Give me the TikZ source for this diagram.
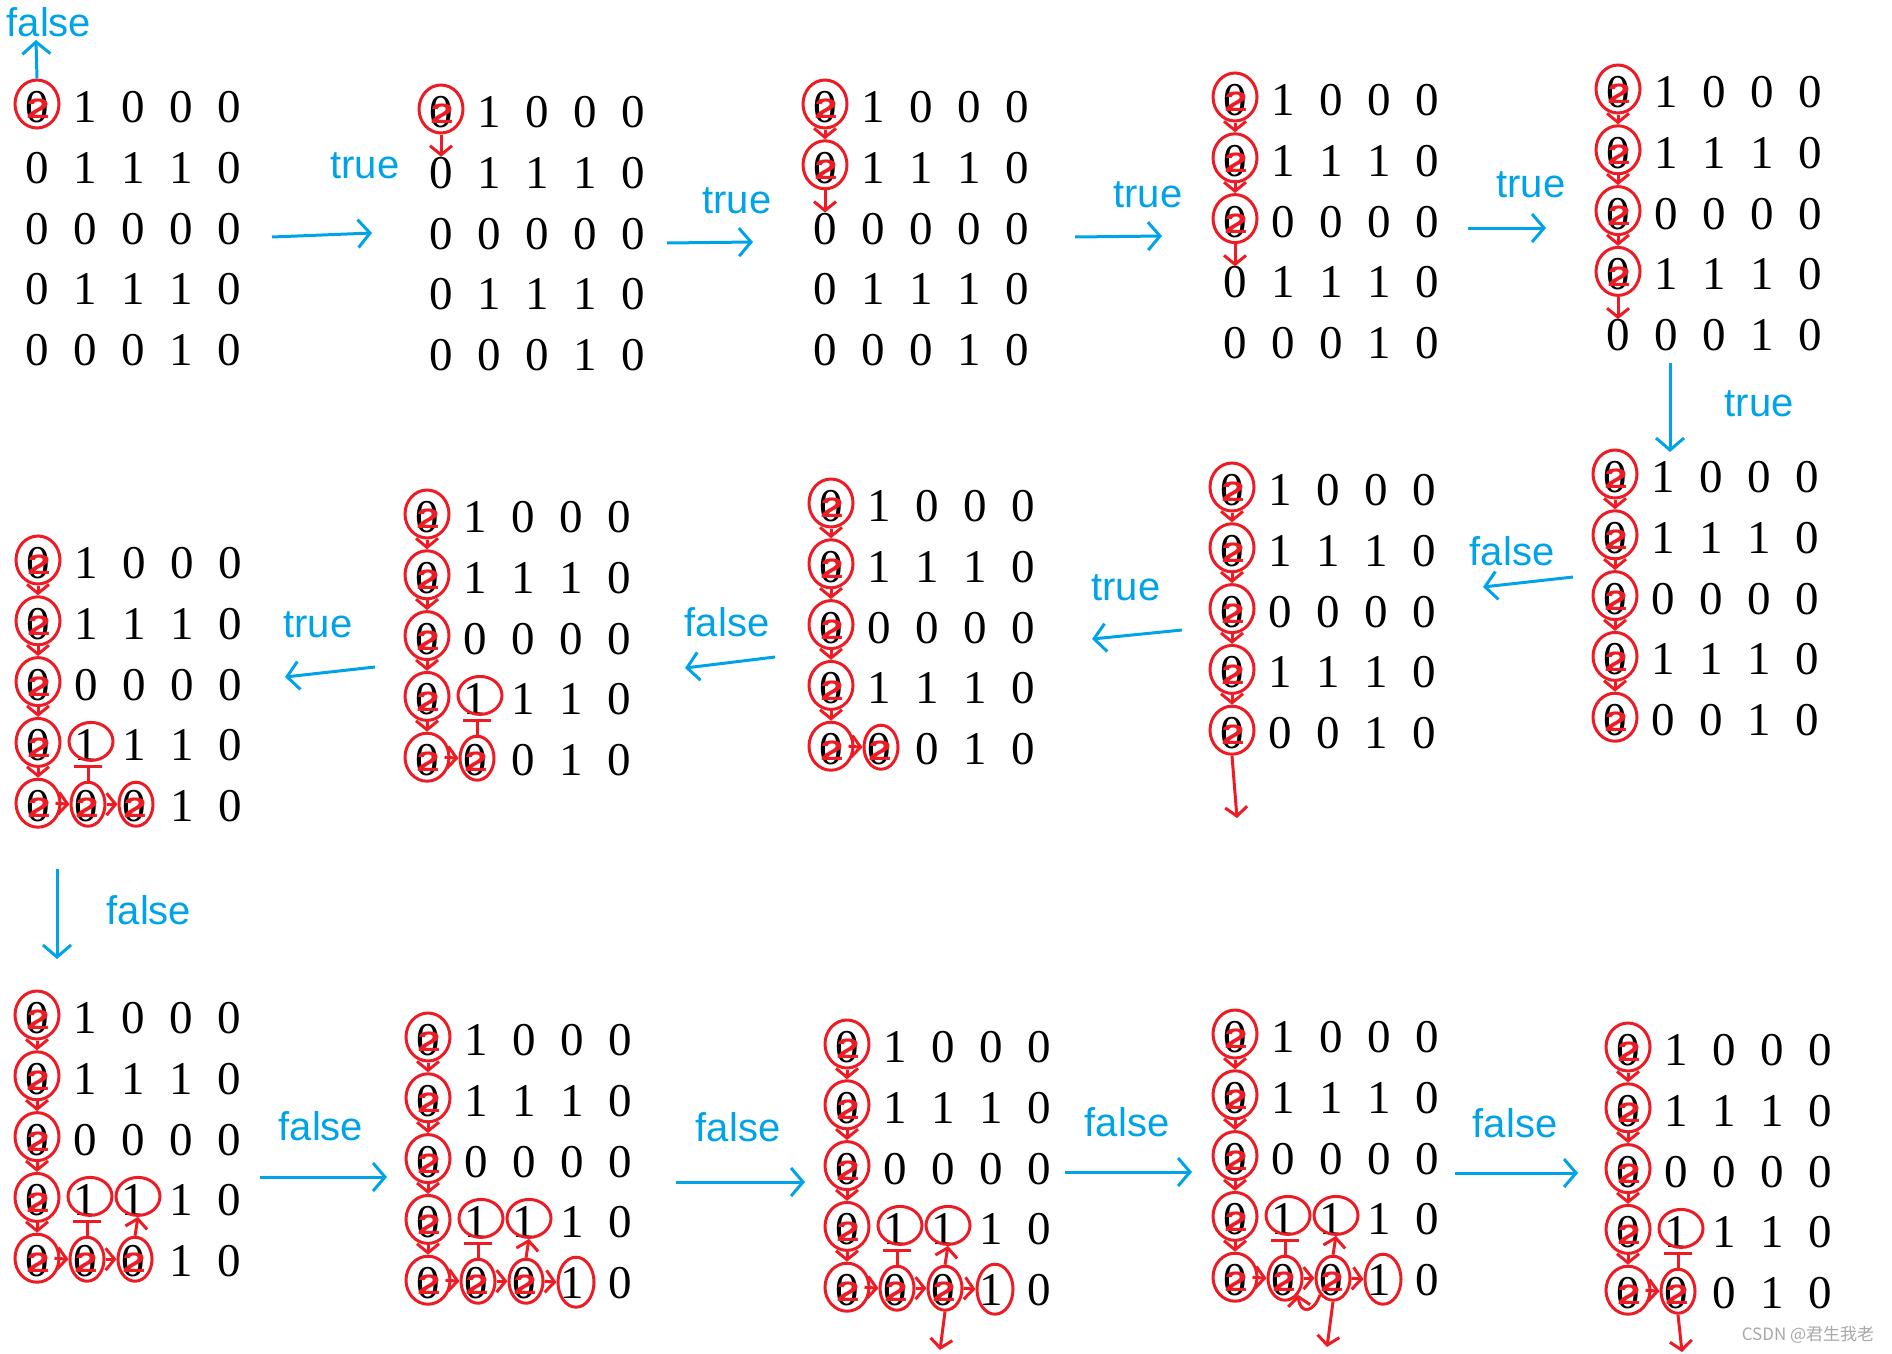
\documentclass[tikz,border=0pt]{standalone}
\usepackage{fontspec}
\usepackage{graphicx}
\setmainfont{Liberation Serif}
\newfontfamily\lblfont{Liberation Sans}
\newfontfamily\cjkfont{Noto Sans CJK SC}
\usetikzlibrary{arrows.meta,shapes.geometric,calc}
\definecolor{pred}{HTML}{ED1C24}
\definecolor{pblue}{HTML}{00A2E8}
\definecolor{wm}{HTML}{A8A8A8}
\tikzset{
  dig/.style={inner sep=0pt, font=\fontsize{47}{50}\selectfont},
  visc/.style={draw=pred, line width=3pt, ellipse, minimum width=44pt, minimum height=48pt, inner sep=0pt},
  visb/.style={draw=pred, line width=3pt, ellipse, minimum width=34pt, minimum height=44pt, inner sep=0pt},
  ringc/.style={draw=pred, line width=3pt, ellipse, minimum width=44pt, minimum height=38pt, inner sep=0pt},
  ringt/.style={draw=pred, line width=3pt, ellipse, minimum width=36pt, minimum height=50pt, inner sep=0pt},
  twomark/.style={text=pred, inner sep=0pt, font=\lblfont\bfseries\fontsize{28}{28}\selectfont},
  rarr/.style={draw=pred, line width=3pt, -{Straight Barb[length=9pt,width=22pt]}},
  rbar/.style={draw=pred, line width=3pt, -{Bar[width=28pt]}},
  barr/.style={draw=pblue, line width=3pt, -{Straight Barb[length=12pt,width=28pt]}},
  blbl/.style={text=pblue, inner sep=0pt, font=\lblfont\fontsize{40}{40}\selectfont},
}
\newcommand\drawmat[3]{%
  \foreach \r/\va/\vb/\vc/\vd/\ve in {0/0/1/0/0/0,1/0/1/1/1/0,2/0/0/0/0/0,3/0/1/1/1/0,4/0/0/0/1/0}{%
    \node[dig] (#1-\r-0) at ({#2},{#3+\r*60.8}) {\va};
    \node[dig] (#1-\r-1) at ({#2+48},{#3+\r*60.8}) {\vb};
    \node[dig] (#1-\r-2) at ({#2+96},{#3+\r*60.8}) {\vc};
    \node[dig] (#1-\r-3) at ({#2+144},{#3+\r*60.8}) {\vd};
    \node[dig] (#1-\r-4) at ({#2+192},{#3+\r*60.8}) {\ve};
  }}
\newcommand\vis[3]{%
  \node[visc] (#1-#2-#3c) at ([yshift=3pt]#1-#2-#3) {};
  \node[twomark] (#1-#2-#3t) at ([xshift=1pt,yshift=-2pt]#1-#2-#3) {\scalebox{1.5}[1]{2}};}
\newcommand\visbot[3]{%
  \node[visb] (#1-#2-#3c) at ([xshift=2pt,yshift=2pt]#1-#2-#3) {};
  \node[twomark] (#1-#2-#3t) at ([xshift=1pt,yshift=-2pt]#1-#2-#3) {\scalebox{1.5}[1]{2}};}
\newcommand\ring[3]{\node[ringc] (#1-#2-#3c) at ([xshift=5pt,yshift=4pt]#1-#2-#3) {};}
\newcommand\ringtall[3]{\node[ringt] (#1-#2-#3c) at ([xshift=4pt,yshift=1pt]#1-#2-#3) {};}
\newcommand\chain[2]{%
  \foreach \r in {1,...,#2}{\pgfmathtruncatemacro\p{\r-1}\draw[rarr] (#1-\p-0c.south) -- (#1-\r-0c.north);}}
\newcommand\colzero[1]{\vis{#1}{0}{0}\vis{#1}{1}{0}\vis{#1}{2}{0}\vis{#1}{3}{0}\vis{#1}{4}{0}\chain{#1}{4}}
\newcommand\tbar[1]{\draw[rbar] (#1-4-1c.north) -- ([yshift=16pt]#1-4-1c.north);}
\begin{document}
\begin{tikzpicture}[x=1pt,y=-1pt]
\useasboundingbox (0,0) rectangle (1892,1354);
% ---------- row 1 ----------
\drawmat{A}{37}{107}
\vis{A}{0}{0}
\drawmat{B}{441}{112}
\vis{B}{0}{0}
\draw[rarr] (B-0-0c.south) -- (B-1-0.north);
\drawmat{C}{825}{107}
\vis{C}{0}{0}\vis{C}{1}{0}
\chain{C}{1}
\draw[rarr] (C-1-0c.south) -- (C-2-0.north);
\drawmat{D}{1235}{100}
\vis{D}{0}{0}\vis{D}{1}{0}\vis{D}{2}{0}
\chain{D}{2}
\draw[rarr] (D-2-0c.south) -- (D-3-0.north);
\drawmat{E}{1618}{92}
\vis{E}{0}{0}\vis{E}{1}{0}\vis{E}{2}{0}\vis{E}{3}{0}
\chain{E}{3}
\draw[rarr] (E-3-0c.south) -- (E-4-0.north);
% ---------- row 2 ----------
\drawmat{F}{1615}{477}
\colzero{F}
\drawmat{G}{1232}{490}
\colzero{G}
\coordinate (gout) at (1237,818);
\draw[rarr] (G-4-0c.south) -- (gout);
\drawmat{H}{831}{506}
\colzero{H}
\visbot{H}{4}{1}
\draw[rarr] ([xshift=-6pt]H-4-0c.east) -- (H-4-1c.west);
\drawmat{I}{427}{517}
\colzero{I}
\visbot{I}{4}{1}\ring{I}{3}{1}
\draw[rarr] ([xshift=-6pt]I-4-0c.east) -- (I-4-1c.west);
\tbar{I}
\drawmat{J}{38}{563}
\colzero{J}
\visbot{J}{4}{1}\ring{J}{3}{1}\visbot{J}{4}{2}
\draw[rarr] ([xshift=-6pt]J-4-0c.east) -- (J-4-1c.west);
\draw[rarr] (J-4-1c.east) -- (J-4-2c.west);
\tbar{J}
% ---------- row 3 ----------
\drawmat{K}{37}{1018}
\colzero{K}
\visbot{K}{4}{1}\ring{K}{3}{1}\visbot{K}{4}{2}\ring{K}{3}{2}
\draw[rarr] ([xshift=-6pt]K-4-0c.east) -- (K-4-1c.west);
\draw[rarr] (K-4-1c.east) -- (K-4-2c.west);
\tbar{K}
\draw[rarr] (K-4-2c.north) -- (K-3-2c.south);
\drawmat{L}{428}{1040}
\colzero{L}
\visbot{L}{4}{1}\ring{L}{3}{1}\visbot{L}{4}{2}\ring{L}{3}{2}\ringtall{L}{4}{3}
\draw[rarr] ([xshift=-6pt]L-4-0c.east) -- (L-4-1c.west);
\draw[rarr] (L-4-1c.east) -- (L-4-2c.west);
\tbar{L}
\draw[rarr] (L-4-2c.north) -- (L-3-2c.south);
\draw[rarr] (L-4-2c.east) -- (L-4-3c.west);
\drawmat{M}{847}{1047}
\colzero{M}
\visbot{M}{4}{1}\ring{M}{3}{1}\visbot{M}{4}{2}\ring{M}{3}{2}\ringtall{M}{4}{3}
\draw[rarr] ([xshift=-6pt]M-4-0c.east) -- (M-4-1c.west);
\draw[rarr] (M-4-1c.east) -- (M-4-2c.west);
\tbar{M}
\draw[rarr] (M-4-2c.north) -- (M-3-2c.south);
\draw[rarr] (M-4-2c.east) -- (M-4-3c.west);
\coordinate (mout) at (940,1350);
\draw[rarr] (M-4-2c.south) -- (mout);
\drawmat{N}{1235}{1037}
\colzero{N}
\visbot{N}{4}{1}\ring{N}{3}{1}\visbot{N}{4}{2}\ring{N}{3}{2}\ringtall{N}{4}{3}
\draw[rarr] ([xshift=-6pt]N-4-0c.east) -- (N-4-1c.west);
\draw[rarr] (N-4-1c.east) -- (N-4-2c.west);
\tbar{N}
\draw[rarr] (N-4-2c.north) -- (N-3-2c.south);
\draw[rarr] (N-4-2c.east) -- (N-4-3c.west);
\coordinate (nout) at (1327,1347);
\draw[rarr] (N-4-2c.south) -- (nout);
\draw[rarr] (N-4-2c.south west) .. controls ($(N-4-2c.south west)+(-6,18)$) and ($(N-4-1c.south east)+(2,20)$) .. (N-4-1c.south east);
\drawmat{O}{1628}{1050}
\colzero{O}
\visbot{O}{4}{1}\ring{O}{3}{1}
\draw[rarr] ([xshift=-6pt]O-4-0c.east) -- (O-4-1c.west);
\tbar{O}
\coordinate (oout) at (1682,1352);
\draw[rarr] (O-4-1c.south) -- (oout);
% ---------- blue transitions ----------
\coordinate (a0) at (36,40);
\draw[barr] (A-0-0c.north) -- (a0);
\node[blbl] (l0) at (49,22) {false};
\coordinate (s1) at (272,237); \coordinate (e1) at (372,233);
\draw[barr] (s1) -- (e1); \node[blbl] (l1) at (365,166) {true};
\coordinate (s2) at (667,243); \coordinate (e2) at (753,242);
\draw[barr] (s2) -- (e2); \node[blbl] (l2) at (737,201) {true};
\coordinate (s3) at (1075,237); \coordinate (e3) at (1162,236);
\draw[barr] (s3) -- (e3); \node[blbl] (l3) at (1148,195) {true};
\coordinate (s4) at (1468,228); \coordinate (e4) at (1546,228);
\draw[barr] (s4) -- (e4); \node[blbl] (l4) at (1531,185) {true};
\coordinate (s5) at (1670,363); \coordinate (e5) at (1670,452);
\draw[barr] (s5) -- (e5); \node[blbl] (l5) at (1759,404) {true};
\coordinate (s6) at (1573,577); \coordinate (e6) at (1483,587);
\draw[barr] (s6) -- (e6); \node[blbl] (l6) at (1512,551) {false};
\coordinate (s7) at (1182,630); \coordinate (e7) at (1092,639);
\draw[barr] (s7) -- (e7); \node[blbl] (l7) at (1126,588) {true};
\coordinate (s8) at (775,657); \coordinate (e8) at (685,668);
\draw[barr] (s8) -- (e8); \node[blbl] (l8) at (727,622) {false};
\coordinate (s9) at (375,667); \coordinate (e9) at (285,677);
\draw[barr] (s9) -- (e9); \node[blbl] (l9) at (318,625) {true};
\coordinate (s10) at (57,869); \coordinate (e10) at (57,959);
\draw[barr] (s10) -- (e10); \node[blbl] (l10) at (149,910) {false};
\coordinate (s11) at (260,1177); \coordinate (e11) at (387,1177);
\draw[barr] (s11) -- (e11); \node[blbl] (l11) at (321,1126) {false};
\coordinate (s12) at (676,1182); \coordinate (e12) at (805,1182);
\draw[barr] (s12) -- (e12); \node[blbl] (l12) at (738,1127) {false};
\coordinate (s13) at (1065,1172); \coordinate (e13) at (1192,1172);
\draw[barr] (s13) -- (e13); \node[blbl] (l13) at (1127,1122) {false};
\coordinate (s14) at (1455,1173); \coordinate (e14) at (1578,1173);
\draw[barr] (s14) -- (e14); \node[blbl] (l14) at (1515,1123) {false};
% ---------- watermark ----------
\node[text=wm, inner sep=0pt, font=\cjkfont\fontsize{17}{17}\selectfont] (wmk) at (1808,1335) {CSDN @君生我老};
\end{tikzpicture}
\end{document}
